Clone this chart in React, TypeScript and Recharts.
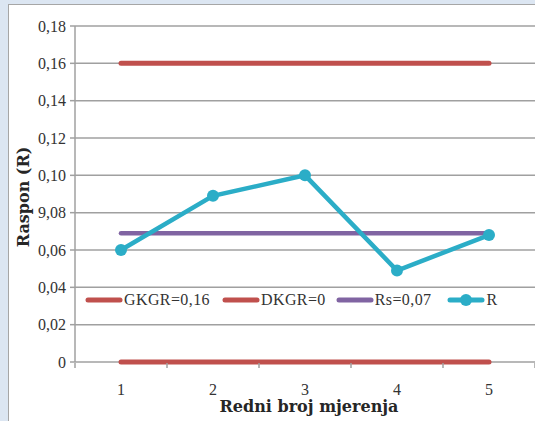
import React from 'react';
import { LineChart, Line, XAxis, YAxis, CartesianGrid, Legend, Label } from 'recharts';

const categories = [1, 2, 3, 4, 5];
const gkgrValues = [0.16, 0.16, 0.16, 0.16, 0.16];
const dkgrValues = [0, 0, 0, 0, 0];
const rsValues = [0.069, 0.069, 0.069, 0.069, 0.069];
const rValues = [0.06, 0.089, 0.1, 0.049, 0.068];

const yTicks = [0, 0.02, 0.04, 0.06, 0.08, 0.1, 0.12, 0.14, 0.16, 0.18];
const yTickLabels = ['0', '0,02', '0,04', '0,06', '9,08', '0,10', '0,12', '0,14', '0,16', '0,18'];
// whole numbers get a label, halves get a tick mark between categories
const xTicks = [0.5, 1, 1.5, 2, 2.5, 3, 3.5, 4, 4.5, 5, 5.5];
const legendOrder = ['gkgr', 'dkgr', 'rs', 'r'];

const data = categories.map((n, i) => ({
  n,
  gkgr: gkgrValues[i],
  dkgr: dkgrValues[i],
  rs: rsValues[i],
  r: rValues[i],
}));

const RED = '#c0504d';
const PURPLE = '#8064a2';
const TEAL = '#2badc7';
const GRID = '#a0a0a0';
const SERIF = '"Liberation Serif", serif';
const TITLE_FONT = '"DejaVu Serif", serif';
const legendGaps = [12, 10, 16, 0];

// recharts hands us y = axis + tickSize + tickMargin (6 + 2)
const XTick = (props: any) => {
  const { x, y, payload } = props;
  const axisY = y - 8;
  const v = payload.value;
  if (Number.isInteger(v)) {
    return (
      <text x={x} y={axisY + 33} textAnchor="middle" fontFamily={SERIF} fontSize={16} fill="#333">
        {v}
      </text>
    );
  }
  return <line x1={x} x2={x} y1={axisY + 1} y2={axisY + 6} stroke={GRID} strokeWidth={1.5} />;
};

const LegendBox = (props: any) => {
  const items = [...(props.payload || [])].sort(
    (a: any, b: any) => legendOrder.indexOf(a.dataKey) - legendOrder.indexOf(b.dataKey)
  );
  return (
    <div style={{ display: 'flex', alignItems: 'center', fontFamily: SERIF, fontSize: 16, letterSpacing: 0.4, color: '#333', lineHeight: '18px' }}>
      {items.map((e: any, i: number) => (
        <div key={e.value} style={{ display: 'flex', alignItems: 'center', marginRight: legendGaps[i] }}>
          <svg width={38} height={14}>
            <line x1={3} x2={35} y1={7} y2={7} stroke={e.color} strokeWidth={5} strokeLinecap="round" />
            {e.dataKey === 'r' && <circle cx={19} cy={7} r={6} fill={e.color} />}
          </svg>
          <span style={{ marginLeft: 1 }}>{e.value}</span>
        </div>
      ))}
    </div>
  );
};

const XTitle = (props: any) => {
  const { viewBox } = props;
  return (
    <text x={viewBox.x + viewBox.width / 2 + 4} y={412} textAnchor="middle" fontFamily={TITLE_FONT} fontWeight="bold" fontSize={16} fill="#262626">
      Redni broj mjerenja
    </text>
  );
};

const YTitle = () => (
  <text x={29} y={197} transform="rotate(-90 29 197)" textAnchor="middle" fontFamily={TITLE_FONT} fontWeight="bold" fontSize={16} fill="#262626">
    Raspon (R)
  </text>
);

export default function App() {
  return (
    <div style={{ position: 'relative', width: 535, height: 421, background: '#dce6f2', overflow: 'hidden' }}>
      <style>{'body{margin:0}'}</style>
      <div
        style={{
          position: 'absolute',
          left: 8,
          top: 4,
          width: 540,
          height: 430,
          background: '#fff',
          borderLeft: '1.5px solid #a6a6a6',
          borderTop: '1.5px solid #a6a6a6',
        }}
      />
      <div style={{ position: 'absolute', left: 0, top: 0 }}>
        <LineChart width={535} height={421} data={data} margin={{ top: 26, right: 0, bottom: 0, left: 0 }}>
          <CartesianGrid vertical={false} stroke={GRID} strokeWidth={1.5} />
          <XAxis
            dataKey="n"
            type="number"
            domain={[0.5, 5.5]}
            ticks={xTicks}
            interval={0}
            height={59}
            tickSize={6}
            tickMargin={2}
            tickLine={false}
            axisLine={false}
            tick={<XTick />}
          >
            <Label content={<XTitle />} />
          </XAxis>
          <YAxis
            type="number"
            domain={[0, 0.18]}
            ticks={yTicks}
            interval={0}
            width={75}
            tickSize={5}
            tickMargin={4}
            axisLine={{ stroke: GRID, strokeWidth: 1.5 }}
            tickLine={{ stroke: GRID, strokeWidth: 1.5 }}
            tickFormatter={(v: number) => yTickLabels[Math.round(v / 0.02)]}
            tick={{ fontFamily: SERIF, fontSize: 16, fill: '#333' }}
          >
            <Label content={<YTitle />} />
          </YAxis>
          <Legend
            layout="vertical"
            align="center"
            verticalAlign="middle"
            itemSorter={(item: any) => legendOrder.indexOf(item.dataKey)}
            content={<LegendBox />}
            wrapperStyle={{ top: 291, left: 85, width: 450, right: 'auto', bottom: 'auto' }}
          />
          <Line dataKey="gkgr" name="GKGR=0,16" stroke={RED} strokeWidth={5} strokeLinecap="round" dot={false} isAnimationActive={false} />
          <Line dataKey="dkgr" name="DKGR=0" stroke={RED} strokeWidth={5} strokeLinecap="round" dot={false} isAnimationActive={false} />
          <Line dataKey="rs" name="Rs=0,07" stroke={PURPLE} strokeWidth={4.5} strokeLinecap="round" dot={false} isAnimationActive={false} />
          <Line
            dataKey="r"
            name="R"
            stroke={TEAL}
            strokeWidth={4.5}
            dot={{ r: 6, fill: TEAL, stroke: TEAL, strokeWidth: 0 }}
            isAnimationActive={false}
          />
        </LineChart>
      </div>
    </div>
  );
}
